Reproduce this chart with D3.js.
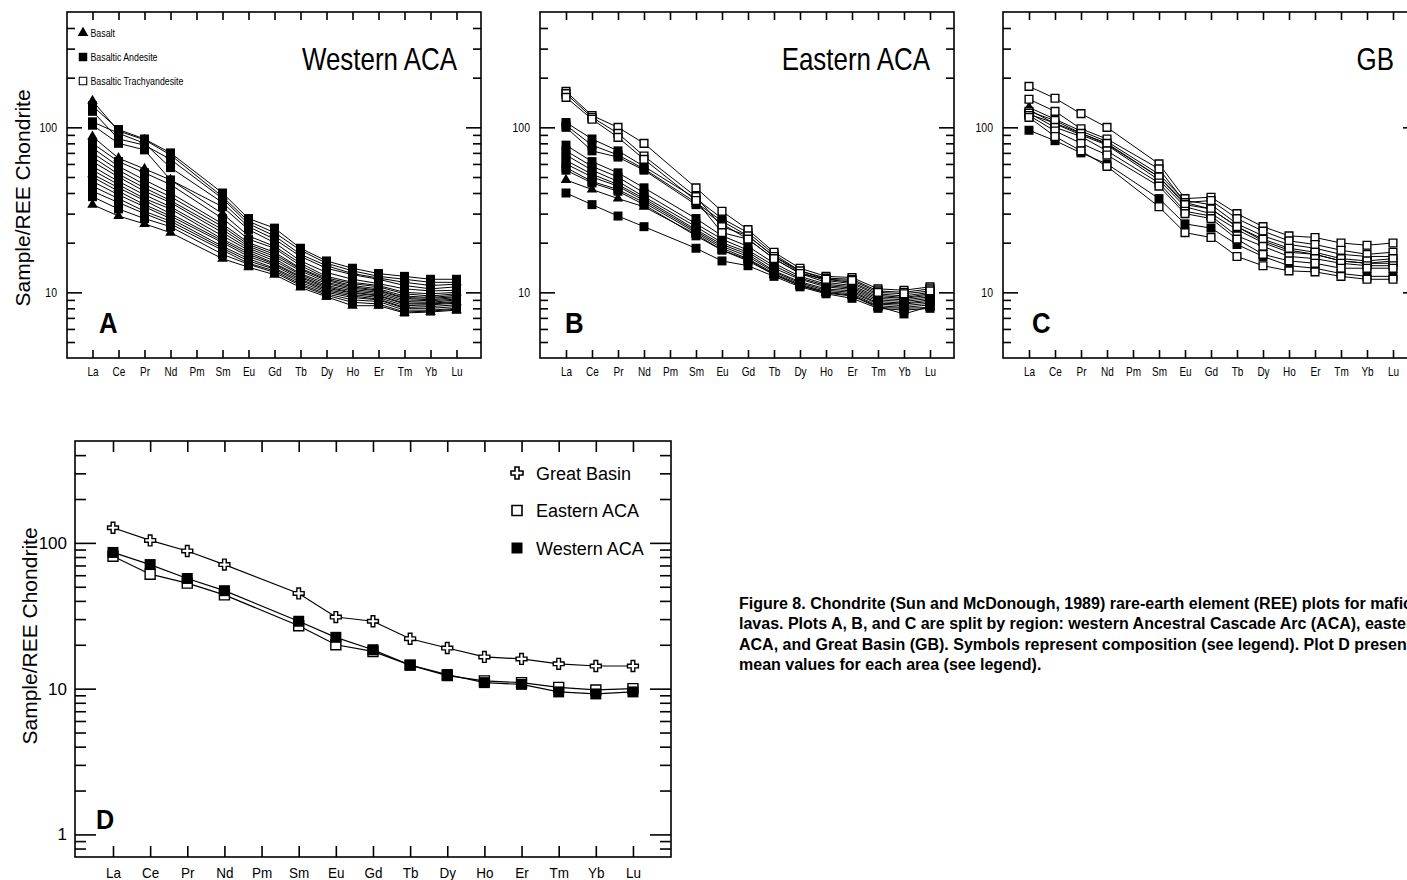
<!DOCTYPE html>
<html>
<head>
<meta charset="utf-8">
<script src="https://cdn.jsdelivr.net/npm/d3@7"></script>
<style>
  body { margin: 0; background: #fff; }
  svg { display: block; }
</style>
</head>
<body>
<svg id="fig" width="1407" height="880"></svg>
<script>
// Rare-earth elements in plotting order (Pm has no data)
const elements = ["La","Ce","Pr","Nd","Pm","Sm","Eu","Gd","Tb","Dy","Ho","Er","Tm","Yb","Lu"];

// Log-axis ticks
const sampleMajorTicks = [10, 100];
const sampleMinorTicks = [5,6,7,8,9,20,30,40,50,60,70,80,90,200,300,400];
const meanMajorTicks = [1, 10, 100];
const meanMinorTicks = [0.8,0.9,2,3,4,5,6,7,8,9,20,30,40,50,60,70,80,90,200,300,400];

// A: western Ancestral Cascade Arc, chondrite-normalised
const westernBasalt = [
  [145, 95, 84, 68, null, 38, 27, 23, 18, 15, 13.5, 12.5, 12, 11.5, 11.5],
  [88, 65, 56, 48, null, 30, 22, 19, 15, 12.5, 11.5, 11, 10, 9.8, 10],
  [52, 43, 36, 30, null, 20.5, 17, 14.8, 12.3, 10.6, 9.9, 9.5, 8.5, 8.5, 8.7],
  [34, 29, 26, 23, null, 16, 14.2, 12.8, 10.7, 9.4, 8.3, 8.3, 7.5, 7.6, 7.8]
];
const westernBasalticAndesite = [
  [135, 97, 85, 70, null, 40, 28, 24.5, 18.5, 15.5, 14, 13, 12.5, 12, 12],
  [125, 85, 78, 64, null, 37, 26, 22, 17, 14.5, 13, 12.2, 11.5, 11, 11.2],
  [108, 92, 80, 57, null, 35, 25, 21, 16.5, 14, 12.8, 12, 11, 10.5, 10.8],
  [103, 80, 73, 48, null, 33, 24, 20, 15.5, 13.2, 12, 11.3, 10.5, 10.2, 10.3],
  [80, 62, 53, 45, null, 28, 21, 18.5, 14.5, 12.2, 11.3, 10.8, 9.8, 9.5, 9.8],
  [75, 58, 48, 40, null, 26, 20, 17.5, 14, 12, 11, 10.5, 9.5, 9.3, 9.6],
  [70, 55, 45, 38, null, 25, 19.5, 17, 13.8, 11.8, 10.8, 10.3, 9.3, 9.2, 9.4],
  [66, 52, 43, 36, null, 24, 19, 16.5, 13.5, 11.5, 10.6, 10.2, 9.2, 9, 9.3],
  [62, 50, 41, 35, null, 23, 18.5, 16, 13, 11.3, 10.4, 10, 9, 8.9, 9.1],
  [58, 47, 39, 33, null, 22, 18, 15.5, 12.8, 11, 10.2, 9.8, 8.8, 8.7, 9],
  [55, 45, 37, 32, null, 21, 17.5, 15, 12.5, 10.8, 10, 9.6, 8.6, 8.6, 8.8],
  [50, 41, 34, 29, null, 20, 16.5, 14.5, 12, 10.4, 9.7, 9.3, 8.3, 8.4, 8.6],
  [47, 39, 33, 28, null, 19, 16, 14, 11.8, 10.2, 9.5, 9.1, 8.1, 8.2, 8.4],
  [44, 37, 31, 27, null, 18.5, 15.5, 13.8, 11.5, 10, 9.3, 9, 8, 8, 8.2],
  [41, 35, 30, 26, null, 18, 15, 13.5, 11.2, 9.8, 9, 8.8, 7.8, 7.8, 8],
  [38, 32, 28, 25, null, 17, 14.8, 13.2, 11, 9.6, 8.7, 8.5, 7.6, 7.7, 7.9]
];
const westernTrachyandesite = [];

// B: eastern Ancestral Cascade Arc
const easternBasalt = [
  [48, 42, 37, 33, null, 22.5, 18, 15.8, 12.8, 11, 9.9, 9.5, 8.1, 8, 8.1]
];
const easternBasalticAndesite = [
  [107, 85, 72, 58, null, 37, 28, 23, 17, 13.5, 12, 11.5, 9.8, 9.5, 10],
  [103, 78, 68, 56, null, 35, 27, 22, 16.5, 13.2, 11.8, 11.3, 9.6, 9.3, 9.8],
  [100, 72, 66, 55, null, 34, 26, 21, 16, 13, 11.5, 11, 9.4, 9.2, 9.6],
  [78, 62, 53, 43, null, 28, 22, 19, 15, 12.5, 11.2, 10.8, 9.2, 9, 9.4],
  [72, 58, 50, 40, null, 26, 21, 18, 14.5, 12.2, 11, 10.6, 9, 8.8, 9.2],
  [68, 55, 47, 38, null, 25, 20, 17.5, 14, 12, 10.8, 10.4, 8.8, 8.6, 9],
  [63, 52, 45, 37, null, 24, 19.5, 17, 13.5, 11.6, 10.5, 10.2, 8.6, 8.5, 8.8],
  [60, 50, 44, 36, null, 23.5, 19, 16.5, 13.3, 11.4, 10.3, 10, 8.5, 8.3, 8.6],
  [57, 47, 42, 35, null, 23, 18.5, 16, 13, 11.2, 10.1, 9.8, 8.3, 8.1, 8.4],
  [55, 46, 41, 34, null, 22, 18, 15.5, 12.8, 11, 10, 9.6, 8.2, 7.4, 8.2],
  [40, 34, 29, 25, null, 18.5, 15.5, 14.5, 12.5, 10.8, 9.8, 9.2, 8, 7.8, 8]
];
const easternTrachyandesite = [
  [165, 118, 100, 80, null, 43, 31, 24, 17.5, 14, 12.5, 12.3, 10.5, 10.3, 10.8],
  [160, 115, 92, 67, null, 38, 25, 22, 16.5, 13.5, 12.2, 12, 10.2, 10, 10.5],
  [152, 112, 87, 64, null, 36, 23, 21, 16, 13, 12, 11.8, 10, 9.8, 10.2]
];

// C: Great Basin
const gbBasalt = [
  [132, 112, 95, 82, null, 52, 36, 34, 26, 22, 19.5, 18.5, 17, 16.5, 16.5],
  [128, 105, 90, 78, null, 48, 33, 30, 24, 20, 17.5, 17, 15.5, 15, 15]
];
const gbBasalticAndesite = [
  [120, 106, 92, 79, null, 50, 35, 32, 25, 20.5, 18, 17, 15.5, 15, 15.5],
  [96, 83, 70, 60, null, 37, 26, 24.5, 19.5, 16.5, 14.5, 14, 13, 12.5, 12.5]
];
const gbTrachyandesite = [
  [177, 150, 121, 100, null, 60, 37, 37.7, 30, 25, 22, 21.5, 19.9, 19.3, 19.9],
  [148, 125, 98, 85, null, 56, 35, 36, 28, 23.5, 20.5, 19.5, 18, 17, 17.5],
  [125, 110, 92, 80, null, 50, 34, 32, 25, 21, 18.5, 17.5, 16, 15.5, 16],
  [122, 100, 88, 72, null, 46, 31, 29, 22, 19, 16.5, 16, 15, 14.5, 14.5],
  [118, 95, 80, 68, null, 44, 30, 28, 21, 17, 15.5, 15, 14, 14, 14],
  [115, 88, 72, 58, null, 33, 23, 21.5, 16.5, 14.5, 13.5, 13.3, 12.5, 12, 12]
];

// D: mean values per area
const meanGreatBasin = [127, 104, 88, 71, null, 45, 31, 29, 22, 19, 16.5, 16, 14.8, 14.3, 14.3];
const meanEasternACA = [81, 61, 53, 44, null, 27, 20, 18, 14.5, 12.3, 11.3, 11, 10.2, 9.8, 10];
const meanWesternACA = [86, 71, 57, 47, null, 29, 22.5, 18.5, 14.5, 12.5, 11, 10.7, 9.5, 9.2, 9.5];

const compositionLegend = ["Basalt", "Basaltic Andesite", "Basaltic Trachyandesite"];
const areaLegend = ["Great Basin", "Eastern ACA", "Western ACA"];

const captionLines = [
  "Figure 8. Chondrite (Sun and McDonough, 1989) rare-earth element (REE) plots for mafic",
  "lavas. Plots A, B, and C are split by region: western Ancestral Cascade Arc (ACA), eastern",
  "ACA, and Great Basin (GB). Symbols represent composition (see legend). Plot D presents",
  "mean values for each area (see legend)."
];

const SANS = "'Liberation Sans',Arial,Helvetica,sans-serif";

const svg = d3.select("#fig");

// Text squeezed horizontally (condensed look) anchored at (x, y)
function condensedText(parent, x, y, str, opts) {
  const t = parent.append("text")
    .attr("transform", `translate(${x},${y}) scale(${opts.sx || 1},1)`)
    .attr("font-family", SANS)
    .attr("font-size", opts.size)
    .attr("text-anchor", opts.anchor || "start")
    .attr("fill", "#000")
    .text(str);
  if (opts.bold) t.attr("font-weight", "bold");
  return t;
}

// Marker painters
function marker(sel, kind, size) {
  if (kind === "tri") {
    sel.attr("d", d3.symbol().type(d3.symbolTriangle).size(size.tri)())
       .attr("fill", "#000").attr("stroke", "none");
  } else if (kind === "sq") {
    sel.attr("d", d3.symbol().type(d3.symbolSquare).size(size.sq)())
       .attr("fill", "#000").attr("stroke", "none");
  } else if (kind === "open") {
    sel.attr("d", d3.symbol().type(d3.symbolSquare).size(size.open)())
       .attr("fill", "#fff").attr("stroke", "#000").attr("stroke-width", size.openStroke);
  } else if (kind === "cross") {
    sel.attr("d", d3.symbol().type(d3.symbolCross).size(size.cross)())
       .attr("fill", "#fff").attr("stroke", "#000").attr("stroke-width", size.openStroke);
  }
}

function styleAxis(g, fontSize, strokeW, sx, shiftX) {
  g.select(".domain").remove();
  g.selectAll(".tick line").attr("stroke", "#000").attr("stroke-width", strokeW);
  g.attr("font-family", SANS).attr("font-size", fontSize);
  g.selectAll(".tick text").attr("fill", "#000")
    .attr("transform", `scale(${sx},1)`)
    .each(function () {
      if (shiftX) {
        const t = d3.select(this);
        t.attr("x", +t.attr("x") / sx);
      }
    });
}

function drawPanel(cfg) {
  const g = svg.append("g");
  const n = elements.length;
  const x = d3.scaleLinear().domain([0, n - 1]).range([cfg.la, cfg.la + cfg.step * (n - 1)]);
  const y = d3.scaleLog().domain(cfg.yDomain).range([cfg.bottom, cfg.top]);

  // element axis along the bottom, mirrored ticks on top
  g.append("g").attr("transform", `translate(0,${cfg.bottom})`)
    .call(d3.axisBottom(x).tickValues(d3.range(n)).tickFormat(i => elements[i])
      .tickSizeInner(-cfg.xTick).tickSizeOuter(0).tickPadding(cfg.xPad))
    .call(styleAxis, cfg.xFontSize, cfg.tickW, cfg.xSx, false);
  g.append("g").attr("transform", `translate(0,${cfg.top})`)
    .call(d3.axisTop(x).tickValues(d3.range(n)).tickFormat("")
      .tickSizeInner(-cfg.xTick).tickSizeOuter(0))
    .call(styleAxis, cfg.xFontSize, cfg.tickW, 1, false);

  // log axis: labelled majors and minors on the left, mirrored on the right
  g.append("g").attr("transform", `translate(${cfg.left},0)`)
    .call(d3.axisLeft(y).tickValues(cfg.major).tickFormat(d3.format("d"))
      .tickSizeInner(-cfg.majorLen).tickSizeOuter(0).tickPadding(cfg.yPad))
    .call(styleAxis, cfg.yFontSize, cfg.tickW, cfg.ySx, true);
  g.append("g").attr("transform", `translate(${cfg.left},0)`)
    .call(d3.axisLeft(y).tickValues(cfg.minor).tickFormat("")
      .tickSizeInner(-cfg.minorLen).tickSizeOuter(0))
    .call(styleAxis, cfg.yFontSize, cfg.tickW, 1, false);
  g.append("g").attr("transform", `translate(${cfg.right},0)`)
    .call(d3.axisRight(y).tickValues(cfg.major).tickFormat("")
      .tickSizeInner(-cfg.majorLen).tickSizeOuter(0))
    .call(styleAxis, cfg.yFontSize, cfg.tickW, 1, false);
  g.append("g").attr("transform", `translate(${cfg.right},0)`)
    .call(d3.axisRight(y).tickValues(cfg.minor).tickFormat("")
      .tickSizeInner(-cfg.minorLen).tickSizeOuter(0))
    .call(styleAxis, cfg.yFontSize, cfg.tickW, 1, false);

  // frame
  g.append("rect")
    .attr("x", cfg.left).attr("y", cfg.top)
    .attr("width", cfg.right - cfg.left).attr("height", cfg.bottom - cfg.top)
    .attr("fill", "none").attr("stroke", "#000").attr("stroke-width", cfg.frameW);

  // sample profiles; Pm is skipped so each line joins Nd straight to Sm
  const line = d3.line().x(d => x(d[0])).y(d => y(d[1]));
  cfg.groups.forEach(grp => {
    grp.series.forEach(values => {
      const pts = values.map((v, i) => [i, v]).filter(d => d[1] != null);
      g.append("path").datum(pts).attr("d", line)
        .attr("fill", "none").attr("stroke", "#000").attr("stroke-width", cfg.lineW);
      g.append("g").selectAll("path").data(pts).join("path")
        .attr("transform", d => `translate(${x(d[0])},${y(d[1])})`)
        .call(marker, grp.kind, cfg.size);
    });
  });

  // panel letter
  condensedText(g, cfg.tagX, cfg.tagY, cfg.tag, { size: cfg.tagSize, sx: cfg.tagSx, bold: true });

  // region title
  if (cfg.title) {
    condensedText(g, cfg.right - 24, 70, cfg.title, { size: 32, sx: 0.81, anchor: "end" });
  }

  // y-axis title
  if (cfg.yTitle) {
    g.append("text")
      .attr("transform", `translate(${cfg.yTitleX},${cfg.yTitleY}) rotate(-90)`)
      .attr("text-anchor", "middle").attr("font-family", SANS)
      .attr("font-size", cfg.yTitleSize).text("Sample/REE Chondrite");
  }
  return g;
}

const sampleSize = { tri: 48, sq: 81, open: 60, cross: 60, openStroke: 1.4 };

const topPanel = {
  top: 12, bottom: 358, step: 26, yDomain: [4, 500],
  major: sampleMajorTicks, minor: sampleMinorTicks,
  majorLen: 15, minorLen: 8, xTick: 8, tickW: 1.6, frameW: 1.6, lineW: 1,
  xFontSize: 12.5, xPad: 9, xSx: 0.8, yFontSize: 12.5, yPad: 10, ySx: 0.84,
  tagSize: 30, tagSx: 0.86, tagY: 333, size: sampleSize
};

// A
const panelA = drawPanel(Object.assign({}, topPanel, {
  left: 67, right: 481, la: 92.5, tag: "A", tagX: 99, title: "Western ACA",
  yTitle: true, yTitleX: 30, yTitleY: 198, yTitleSize: 21,
  groups: [
    { kind: "sq", series: westernBasalticAndesite },
    { kind: "tri", series: westernBasalt },
    { kind: "open", series: westernTrachyandesite }
  ]
}));

// composition legend inside panel A
const legendKinds = ["tri", "sq", "open"];
const legendSize = { tri: 50, sq: 72, open: 56, cross: 60, openStroke: 1.1 };
compositionLegend.forEach((label, i) => {
  const cy = 33 + i * 24;
  panelA.append("path").attr("transform", `translate(83,${cy})`).call(marker, legendKinds[i], legendSize);
  condensedText(panelA, 90.5, cy + 4, label, { size: 11, sx: 0.8 });
});

// B
drawPanel(Object.assign({}, topPanel, {
  left: 540, right: 954, la: 566, tag: "B", tagX: 565, title: "Eastern ACA",
  groups: [
    { kind: "sq", series: easternBasalticAndesite },
    { kind: "tri", series: easternBasalt },
    { kind: "open", series: easternTrachyandesite }
  ]
}));

// C
drawPanel(Object.assign({}, topPanel, {
  left: 1003, right: 1418, la: 1029, tag: "C", tagX: 1032, title: "GB",
  groups: [
    { kind: "sq", series: gbBasalticAndesite },
    { kind: "tri", series: gbBasalt },
    { kind: "open", series: gbTrachyandesite }
  ]
}));

// D: means
const meanSize = { tri: 60, sq: 121, open: 100, cross: 66, openStroke: 1.4 };
const panelD = drawPanel({
  left: 75, right: 671, top: 441, bottom: 857, la: 113, step: 37.14, yDomain: [0.7, 500],
  major: meanMajorTicks, minor: meanMinorTicks,
  majorLen: 21, minorLen: 11, xTick: 11, tickW: 1.6, frameW: 1.6, lineW: 1.2,
  xFontSize: 15, xPad: 10, xSx: 0.9, yFontSize: 17, yPad: 8, ySx: 1,
  tagSize: 28, tagSx: 0.9, tagX: 96, tagY: 829, tag: "D",
  yTitle: true, yTitleX: 37, yTitleY: 636, yTitleSize: 21,
  size: meanSize,
  groups: [
    { kind: "open", series: [meanEasternACA] },
    { kind: "sq", series: [meanWesternACA] },
    { kind: "cross", series: [meanGreatBasin] }
  ]
});

const areaKinds = ["cross", "open", "sq"];
const areaLegendSize = { tri: 60, sq: 121, open: 100, cross: 80, openStroke: 1.6 };
areaLegend.forEach((label, i) => {
  const cy = 473 + i * 37.5;
  panelD.append("path").attr("transform", `translate(517,${cy})`).call(marker, areaKinds[i], areaLegendSize);
  panelD.append("text").attr("x", 536).attr("y", cy + 6.5)
    .attr("font-family", SANS).attr("font-size", 18).text(label);
});

// caption
const caption = svg.append("text").attr("font-family", SANS).attr("font-weight", "bold")
  .attr("font-size", 16).attr("fill", "#000");
captionLines.forEach((t, i) => {
  caption.append("tspan").attr("x", 739).attr("y", 609 + i * 20.3).text(t);
});
</script>
</body>
</html>
